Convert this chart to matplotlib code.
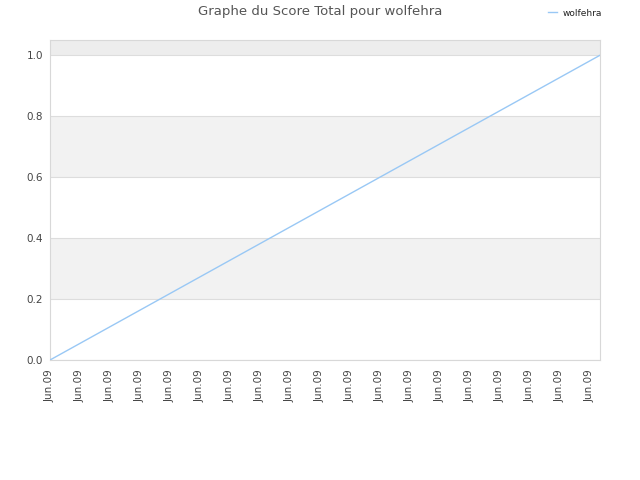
import matplotlib
matplotlib.use("Agg")
import matplotlib.pyplot as plt

# data
days = [0, 55]
scores = [0.0, 1.0]
tick_days = list(range(0, 55, 3))
tick_labels = ["Jun.09"] * len(tick_days)
y_ticks = [0.0, 0.2, 0.4, 0.6, 0.8, 1.0]
series_name = "wolfehra"
title = "Graphe du Score Total pour wolfehra"

fig = plt.figure(figsize=(6.4, 4.8), dpi=100)
ax = fig.add_axes([50/640, 1-360/480, 550/640, 320/480])
ax.set_xlim(0, 55)
ax.set_ylim(0, 1.05)

# bands
for lo, hi in [(0.2, 0.4), (0.6, 0.8)]:
    ax.axhspan(lo, hi, color="#f2f2f2", zorder=0, lw=0)
ax.axhspan(1.0, 1.05, color="#ededed", zorder=0, lw=0)
for y in y_ticks:
    ax.axhline(y, color="#dddddd", lw=0.8, zorder=1)

ax.plot(days, scores, color="#99c8f5", lw=1, zorder=3, label=series_name)

for s in ax.spines.values():
    s.set_color("#d8d8d8")
    s.set_linewidth(0.8)

ax.set_yticks(y_ticks)
ax.set_yticklabels([f"{v:.1f}" for v in y_ticks], fontsize=7.5, color="#444444")
ax.set_xticks(tick_days)
ax.set_xticklabels(tick_labels, rotation=90, fontsize=7.5, color="#444444")
ax.tick_params(axis="y", length=0, pad=5)
ax.tick_params(axis="x", length=0, pad=7)

fig.text(0.5, 1-12/480, title, ha="center", va="center", fontsize=9.5, color="#555555")
leg = fig.legend(loc="center left", bbox_to_anchor=(540/640, 1-13/480), frameon=False,
                 fontsize=6.5, handlelength=1.0, handletextpad=0.6)
for t in leg.get_texts():
    t.set_color("#222222")

fig.savefig("out.png", dpi=100)
